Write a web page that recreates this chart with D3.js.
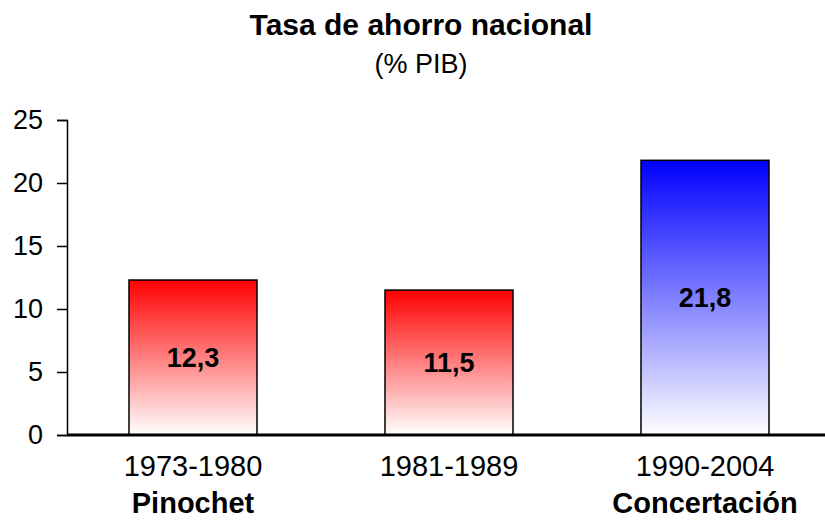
<!DOCTYPE html>
<html>
<head>
<meta charset="utf-8">
<script src="https://cdn.jsdelivr.net/npm/d3@7"></script>
<style>
  body { margin: 0; background: #fff; }
  svg { font-family: "Liberation Sans", Arial, sans-serif; }
</style>
</head>
<body>
<div id="chart"></div>
<script>
// data
var periods = ["1973-1980", "1981-1989", "1990-2004"];
var values = [12.3, 11.5, 21.8];
var regimes = ["Pinochet", "", "Concertación"];
var barColors = ["#ff0000", "#ff0000", "#0000ff"];
var yTicks = [0, 5, 10, 15, 20, 25];

var svgWidth = 825;
var svgHeight = 521;
var fontFam = "Liberation Sans, Arial, sans-serif";

var svg = d3.select("#chart").append("svg")
  .attr("width", svgWidth)
  .attr("height", svgHeight);

var yScale = d3.scaleLinear().domain([0, 25]).range([435, 120]);
// step 256, bar half a step wide
var xScale = d3.scaleBand().domain(periods).range([65, 833])
  .paddingInner(0.5).paddingOuter(0.25);

// gradients, colour on top fading to white
var defs = svg.append("defs");
periods.forEach(function(p, i) {
  var g = defs.append("linearGradient")
    .attr("id", "grad" + i)
    .attr("x1", 0).attr("y1", 0).attr("x2", 0).attr("y2", 1);
  g.append("stop").attr("offset", "0%").attr("stop-color", barColors[i]);
  g.append("stop").attr("offset", "100%").attr("stop-color", "#ffffff");
});

// title
svg.append("text")
  .attr("x", 421).attr("y", 35)
  .attr("text-anchor", "middle")
  .attr("font-size", 30).attr("font-weight", "bold")
  .text("Tasa de ahorro nacional");
svg.append("text")
  .attr("x", 421).attr("y", 73)
  .attr("text-anchor", "middle")
  .attr("font-size", 27)
  .text("(% PIB)");

// y axis
var leftAxis = d3.axisLeft(yScale).tickValues(yTicks).tickSize(10).tickPadding(14);
var yAxis = svg.append("g")
  .attr("transform", "translate(67,0)")
  .call(leftAxis);
yAxis.select(".domain").attr("stroke-width", 1.5);
yAxis.selectAll(".tick line").attr("stroke-width", 1.5);
yAxis.selectAll(".tick text").attr("font-size", 27).attr("fill", "#000")
  .attr("font-family", fontFam);

// bars
svg.selectAll("rect.bar")
  .data(values)
  .enter()
  .append("rect")
  .attr("class", "bar")
  .attr("x", function(d, i) { return xScale(periods[i]); })
  .attr("y", function(d) { return yScale(d); })
  .attr("width", xScale.bandwidth())
  .attr("height", function(d) { return yScale(0) - yScale(d); })
  .attr("fill", function(d, i) { return "url(#grad" + i + ")"; })
  .attr("stroke", "#000")
  .attr("stroke-width", 1.5);

// value labels
svg.selectAll("text.val")
  .data(values)
  .enter()
  .append("text")
  .attr("class", "val")
  .attr("x", function(d, i) { return xScale(periods[i]) + xScale.bandwidth() / 2; })
  .attr("y", function(d) { return (yScale(d) + yScale(0)) / 2; })
  .attr("dy", "0.36em")
  .attr("text-anchor", "middle")
  .attr("font-size", 27).attr("font-weight", "bold")
  .text(function(d) { return d3.format(".1f")(d).replace(".", ","); });

// x axis baseline
var bottomAxis = d3.axisBottom(xScale).tickSize(0).tickPadding(20);
var xAxis = svg.append("g")
  .attr("transform", "translate(0,435)")
  .call(bottomAxis);
xAxis.select(".domain").attr("d", "M67,0H825").attr("stroke-width", 3);
xAxis.selectAll(".tick text").attr("font-size", 29).attr("fill", "#000")
  .attr("font-family", fontFam);

// regime labels
svg.selectAll("text.regime")
  .data(regimes)
  .enter()
  .append("text")
  .attr("class", "regime")
  .attr("x", function(d, i) { return xScale(periods[i]) + xScale.bandwidth() / 2; })
  .attr("y", 513)
  .attr("text-anchor", "middle")
  .attr("font-size", 29).attr("font-weight", "bold")
  .text(function(d) { return d; });
</script>
</body>
</html>
